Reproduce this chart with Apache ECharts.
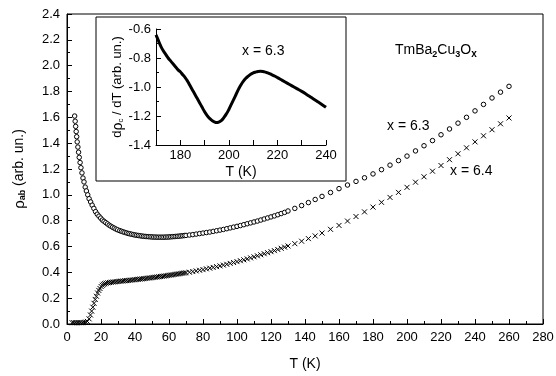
<!DOCTYPE html>
<html>
<head>
<meta charset="utf-8">
<script src="https://cdn.jsdelivr.net/npm/echarts@6/dist/echarts.min.js"></script>
<style>
  html, body { margin: 0; padding: 0; background: #fff; }
  #chart { width: 556px; height: 376px; }
</style>
</head>
<body>
<div id="chart"></div>
<script>
// x = 6.3 (open circles), temperature in K and rho_ab
const temp63 = [4.5, 4.8, 5.1, 5.4, 5.7, 6.0, 6.4, 6.8, 7.2, 7.7, 8.2, 8.8, 9.4, 10.0, 10.7, 11.4, 12.2, 13.0, 13.9, 14.8,
  15.8, 16.8, 17.8, 18.8, 19.8, 20.8, 21.8, 22.8, 23.8, 24.8, 25.8, 26.8, 27.8, 28.8, 29.8,
  31, 32, 33, 34, 35, 36, 37, 38, 39, 40, 41, 42, 43, 44, 45, 46, 47, 48, 49, 50,
  51, 52, 53, 54, 55, 56, 57, 58, 59, 60, 61, 62, 63, 64, 65, 66, 67, 68, 69, 70,
  72, 74, 76, 78, 80, 82, 84, 86, 88, 90, 92, 94, 96, 98, 100, 102, 104, 106, 108, 110,
  112, 114, 116, 118, 120, 122, 124, 126, 128, 130,
  134, 138, 142, 146, 150, 155, 160, 165, 170, 175, 180, 185, 190, 195, 200, 205, 210, 215, 220,
  225, 230, 235, 240, 245, 250, 255, 260];
const rho63 = [1.61, 1.57, 1.53, 1.49, 1.45, 1.41, 1.37, 1.33, 1.29, 1.25, 1.21, 1.17, 1.13, 1.10, 1.06, 1.03, 1.00, 0.97, 0.945, 0.92,
  0.895, 0.87, 0.85, 0.835, 0.82, 0.805, 0.795, 0.785, 0.775, 0.765, 0.757, 0.749, 0.742, 0.735, 0.729,
  0.723, 0.718, 0.713, 0.709, 0.705, 0.701, 0.698, 0.695, 0.692, 0.689, 0.687, 0.685, 0.683, 0.681, 0.679, 0.678, 0.677, 0.676, 0.675, 0.674,
  0.673, 0.673, 0.672, 0.672, 0.672, 0.672, 0.672, 0.673, 0.673, 0.674, 0.675, 0.676, 0.677, 0.678, 0.679, 0.680, 0.682, 0.683, 0.685, 0.686,
  0.689, 0.692, 0.696, 0.700, 0.704, 0.708, 0.712, 0.717, 0.722, 0.727, 0.732, 0.738, 0.744, 0.750, 0.756, 0.762, 0.769, 0.776, 0.783, 0.790,
  0.797, 0.805, 0.813, 0.821, 0.829, 0.837, 0.846, 0.855, 0.864, 0.875,
  0.895, 0.917, 0.940, 0.964, 0.988, 1.018, 1.048, 1.076, 1.104, 1.132, 1.162, 1.195, 1.230, 1.265, 1.300, 1.340, 1.380, 1.420, 1.465,
  1.510, 1.555, 1.600, 1.650, 1.700, 1.750, 1.795, 1.840];

// x = 6.4 (crosses)
const temp64 = [3, 4, 5, 6, 7, 8, 9, 10, 11, 12, 13, 13.8, 14.5, 15.2, 15.9, 16.6, 17.3, 18.0, 18.7, 19.4,
  20.1, 20.8, 21.5, 22.2, 23, 24, 25, 26, 27, 28, 29, 30,
  31, 32, 33, 34, 35, 36, 37, 38, 39, 40, 41, 42, 43, 44, 45, 46, 47, 48, 49, 50,
  51, 52, 53, 54, 55, 56, 57, 58, 59, 60, 61, 62, 63, 64, 65, 66, 67, 68, 69, 70,
  72, 74, 76, 78, 80, 82, 84, 86, 88, 90, 92, 94, 96, 98, 100, 102, 104, 106, 108, 110,
  112, 114, 116, 118, 120, 122, 124, 126, 128, 130,
  134, 138, 142, 146, 150, 155, 160, 165, 170, 175, 180, 185, 190, 195, 200, 205, 210, 215, 220,
  225, 230, 235, 240, 245, 250, 255, 260];
const rho64 = [0.01, 0.01, 0.01, 0.01, 0.01, 0.01, 0.01, 0.012, 0.015, 0.02, 0.04, 0.07, 0.10, 0.13, 0.16, 0.19, 0.215, 0.24, 0.26, 0.275,
  0.29, 0.30, 0.307, 0.312, 0.316, 0.319, 0.321, 0.323, 0.325, 0.326, 0.328, 0.329,
  0.331, 0.332, 0.333, 0.335, 0.336, 0.337, 0.339, 0.340, 0.342, 0.343, 0.345, 0.346, 0.348, 0.349, 0.351, 0.352, 0.354, 0.356, 0.357, 0.359,
  0.361, 0.362, 0.364, 0.366, 0.368, 0.369, 0.371, 0.373, 0.375, 0.377, 0.379, 0.381, 0.383, 0.385, 0.387, 0.389, 0.391, 0.393, 0.395, 0.397,
  0.401, 0.406, 0.411, 0.416, 0.421, 0.427, 0.432, 0.438, 0.444, 0.450, 0.456, 0.462, 0.469, 0.476, 0.483, 0.490, 0.497, 0.504, 0.512, 0.520,
  0.528, 0.536, 0.544, 0.552, 0.560, 0.568, 0.577, 0.586, 0.595, 0.604,
  0.622, 0.641, 0.661, 0.682, 0.704, 0.733, 0.763, 0.797, 0.832, 0.868, 0.905, 0.942, 0.980, 1.019, 1.058, 1.098, 1.140, 1.183, 1.227,
  1.272, 1.318, 1.364, 1.410, 1.457, 1.504, 1.550, 1.595];

// inset: d rho_c / dT for x = 6.3
const tempInset = [170, 171, 172, 173, 174, 175, 176, 177, 178, 179, 180, 181, 182, 183, 184, 185, 186, 187, 188, 189,
  190, 191, 192, 193, 194, 195, 196, 197, 198, 199, 200, 201, 202, 203, 204, 205, 206, 207, 208, 209,
  210, 211, 212, 213, 214, 215, 216, 217, 218, 219, 220, 222, 224, 226, 228, 230, 232, 234, 236, 238, 240];
const dRho = [-0.64, -0.68, -0.72, -0.75, -0.775, -0.80, -0.82, -0.84, -0.86, -0.88, -0.895, -0.915, -0.935, -0.96, -0.99, -1.02, -1.05, -1.08, -1.11, -1.14,
  -1.17, -1.195, -1.215, -1.23, -1.24, -1.245, -1.24, -1.23, -1.21, -1.185, -1.155, -1.12, -1.085, -1.05, -1.015, -0.985, -0.96, -0.94, -0.925, -0.912,
  -0.903, -0.897, -0.893, -0.892, -0.893, -0.897, -0.903, -0.91, -0.918, -0.926, -0.935, -0.954, -0.973, -0.992, -1.011, -1.03, -1.051, -1.073, -1.095, -1.117, -1.14];

const FONT = '"Liberation Sans", Arial, sans-serif';
const pairs = (xs, ys) => xs.map((x, i) => [x, ys[i]]);

const chart = echarts.init(document.getElementById('chart'), null, { renderer: 'canvas' });

const axisCommon = {
  axisLine: { show: true, onZero: false, lineStyle: { color: '#000', width: 1 } },
  axisTick: { show: true, inside: true, length: 5, lineStyle: { color: '#000', width: 1 } },
  minorTick: { show: true, splitNumber: 2, length: 3, lineStyle: { color: '#000', width: 1 } },
  splitLine: { show: false },
  axisLabel: { color: '#000', fontFamily: FONT, fontSize: 13 },
  nameTextStyle: { color: '#000', fontFamily: FONT, fontSize: 14 }
};

const option = {
  backgroundColor: '#fff',
  animation: false,
  grid: [
    { left: 67, top: 14, right: 13, bottom: 52, show: true, borderColor: '#000', borderWidth: 1, outerBoundsMode: 'none' },
    { left: 156, top: 29, right: 230, bottom: 231, show: false, outerBoundsMode: 'none', z: 10 }
  ],
  xAxis: [
    Object.assign({}, axisCommon, {
      gridIndex: 0, type: 'value', min: 0, max: 280, interval: 20,
      name: 'T (K)', nameLocation: 'middle', nameGap: 33,
      axisLabel: Object.assign({}, axisCommon.axisLabel, { margin: 7 })
    }),
    Object.assign({}, axisCommon, {
      gridIndex: 1, type: 'value', min: 170, max: 240, interval: 10, z: 10,
      name: 'T (K)', nameLocation: 'middle', nameGap: 20,
      minorTick: { show: false },
      axisLabel: Object.assign({}, axisCommon.axisLabel, {
        margin: 4, formatter: v => (v % 20 === 0 ? String(v) : '')
      })
    })
  ],
  yAxis: [
    Object.assign({}, axisCommon, {
      gridIndex: 0, type: 'value', min: 0, max: 2.4, interval: 0.2,
      name: '{r|ρ}{s|ab} (arb. un.)', nameLocation: 'middle', nameGap: 40,
      nameTextStyle: {
        color: '#000', fontFamily: FONT, fontSize: 14,
        rich: {
          r: { fontFamily: FONT, fontSize: 15, color: '#000' },
          s: { fontFamily: FONT, fontSize: 9, fontWeight: 'bold', color: '#000', verticalAlign: 'bottom', padding: [6, 0, 0, 0] }
        }
      },
      axisLabel: Object.assign({}, axisCommon.axisLabel, { margin: 7, formatter: v => v.toFixed(1) })
    }),
    Object.assign({}, axisCommon, {
      gridIndex: 1, type: 'value', min: -1.4, max: -0.6, interval: 0.2, z: 10,
      name: 'd{r|ρ}{s|c} / dT (arb. un.)', nameLocation: 'middle', nameGap: 31,
      nameTextStyle: {
        color: '#000', fontFamily: FONT, fontSize: 13,
        rich: {
          r: { fontFamily: FONT, fontSize: 14, color: '#000' },
          s: { fontFamily: FONT, fontSize: 8, color: '#000', padding: [6, 0, 0, 0] }
        }
      },
      axisLabel: Object.assign({}, axisCommon.axisLabel, { margin: 5, formatter: v => v.toFixed(1) })
    })
  ],
  graphic: [
    {
      type: 'rect', z: 5,
      shape: { x: 96, y: 17, width: 250, height: 164 },
      style: { fill: '#fff', stroke: '#000', lineWidth: 1 }
    },
    {
      type: 'text', left: 395, top: 43, z: 20,
      style: {
        text: 'TmBa{s|2}Cu{s|3}O{b|x}',
        font: '14px ' + FONT, fill: '#000',
        rich: {
          s: { fontSize: 9, fontWeight: 'bold', fontFamily: FONT, fill: '#000', padding: [9, 0, 0, 0] },
          b: { fontSize: 10, fontWeight: 'bold', fontFamily: FONT, fill: '#000', padding: [9, 0, 0, 0] }
        }
      }
    },
    { type: 'text', left: 387, top: 119, z: 20, style: { text: 'x = 6.3', font: '14px ' + FONT, fill: '#000' } },
    { type: 'text', left: 450, top: 164, z: 20, style: { text: 'x = 6.4', font: '14px ' + FONT, fill: '#000' } },
    { type: 'text', left: 242, top: 44, z: 20, style: { text: 'x = 6.3', font: '14px ' + FONT, fill: '#000' } }
  ],
  series: [
    {
      name: 'x = 6.3', type: 'scatter', xAxisIndex: 0, yAxisIndex: 0,
      data: pairs(temp63, rho63),
      symbol: 'circle', symbolSize: 4.5,
      itemStyle: { color: '#fff', borderColor: '#000', borderWidth: 1, opacity: 1 }
    },
    {
      name: 'x = 6.4', type: 'scatter', xAxisIndex: 0, yAxisIndex: 0,
      data: pairs(temp64, rho64),
      symbol: 'path://M0,0L10,10M10,0L0,10', symbolSize: 5,
      itemStyle: { color: 'none', borderColor: '#000', borderWidth: 1, opacity: 1 }
    },
    {
      name: 'inset', type: 'line', xAxisIndex: 1, yAxisIndex: 1, z: 12,
      data: pairs(tempInset, dRho),
      smooth: true, showSymbol: false, symbol: 'none',
      lineStyle: { color: '#000', width: 3 }
    }
  ]
};

chart.setOption(option);
window.addEventListener('resize', () => chart.resize());
</script>
</body>
</html>
